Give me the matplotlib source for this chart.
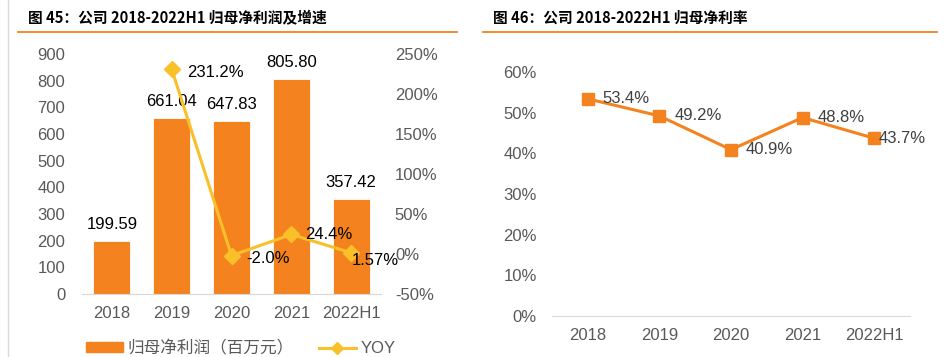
import matplotlib
matplotlib.use("Agg")
import matplotlib.pyplot as plt
from matplotlib.lines import Line2D
from matplotlib.patches import Patch
import numpy as np

plt.rcParams['font.family'] = ['Liberation Sans', 'Noto Sans CJK SC', 'DejaVu Sans']

# ---- data ----
categories = ["2018", "2019", "2020", "2021", "2022H1"]
net_profit = [199.59, 661.04, 647.83, 805.80, 357.42]
profit_labels = ["199.59", "661.04", "647.83", "805.80", "357.42"]
yoy = [np.nan, 231.2, -2.0, 24.4, 1.57]
yoy_labels = ["", "231.2%", "-2.0%", "24.4%", "1.57%"]
margin = [53.4, 49.2, 40.9, 48.8, 43.7]
margin_labels = ["53.4%", "49.2%", "40.9%", "48.8%", "43.7%"]

left_ticks = [0, 100, 200, 300, 400, 500, 600, 700, 800, 900]
right_ticks = [-50, 0, 50, 100, 150, 200, 250]
margin_ticks = [0, 10, 20, 30, 40, 50, 60]

title1 = "图 45：公司 2018-2022H1 归母净利润及增速"
title2 = "图 46：公司 2018-2022H1 归母净利率"
legend_bar = "归母净利润（百万元）"
legend_line = "YOY"

ORANGE = "#F4821F"
GOLD = "#FAC02A"
TICK = "#595959"
AXLINE = "#D9D9D9"
FS = 12

W, H = 947, 357
fig = plt.figure(figsize=(W / 100, H / 100), dpi=100)

def fx(px):
    return px / W

def fy(py):
    return 1 - py / H

# decorations
fig.add_artist(Line2D([fx(8), fx(8)], [0, 1], color=AXLINE, lw=1))
fig.add_artist(Line2D([fx(18), fx(457)], [fy(32), fy(32)], color=ORANGE, lw=1.3))
fig.add_artist(Line2D([fx(483), fx(937)], [fy(32), fy(32)], color=ORANGE, lw=1.3))
fig.text(fx(28), fy(18), title1, fontsize=10.6, fontweight='bold',
         family=['Noto Sans CJK SC'], va='center', ha='left', color='black')
fig.text(fx(493), fy(18), title2, fontsize=10.6, fontweight='bold',
         family=['Noto Sans CJK SC'], va='center', ha='left', color='black')

# ---- left chart ----
ax = fig.add_axes([fx(82), fy(294), fx(381 - 82), (294 - 54) / H])
x = np.arange(len(categories))
ax.bar(x, net_profit, width=0.62, color=ORANGE, edgecolor='white', linewidth=0.6, zorder=2)
ax.set_xlim(-0.5, 4.5)
ax.set_ylim(0, 900)
ax.set_yticks(left_ticks)
ax.set_xticks(x)
ax.set_xticklabels(categories)
for s in ['top', 'right', 'left']:
    ax.spines[s].set_visible(False)
ax.spines['bottom'].set_color(AXLINE)
ax.tick_params(axis='both', length=0, colors=TICK, labelsize=FS)
ax.tick_params(axis='y', pad=12)
ax.tick_params(axis='x', pad=9)
for xi, v, lab in zip(x, net_profit, profit_labels):
    ax.annotate(lab, (xi, v), xytext=(0, 9), textcoords='offset pixels',
                ha='center', va='bottom', fontsize=FS, color='black')

ax2 = ax.twinx()
ax2.plot(x, yoy, color=GOLD, lw=2.2, marker='D', markersize=8, zorder=3)
ax2.set_ylim(-50, 250)
ax2.set_yticks(right_ticks)
ax2.set_yticklabels([f"{t}%" for t in right_ticks])
for s in ['top', 'right', 'left', 'bottom']:
    ax2.spines[s].set_visible(False)
ax2.tick_params(axis='y', length=0, colors=TICK, labelsize=FS, pad=10)
yoy_offsets = [(0, 0), (15, -3), (15, -3), (14, 0), (1, -8)]
for xi, v, lab, off in zip(x, yoy, yoy_labels, yoy_offsets):
    if lab:
        ax2.annotate(lab, (xi, v), xytext=off, textcoords='offset pixels',
                     ha='left', va='center', fontsize=FS, color='black')

handles = [Patch(facecolor=ORANGE, edgecolor=ORANGE),
           Line2D([0], [0], color=GOLD, lw=2.2, marker='D', markersize=6)]
fig.legend(handles, [legend_bar, legend_line], loc='center',
           bbox_to_anchor=(fx(241), fy(348)), ncol=2, frameon=False,
           fontsize=FS, labelcolor=TICK, handlelength=2.2, handleheight=0.5,
           columnspacing=1.5, handletextpad=0.3)

# ---- right chart ----
bx = fig.add_axes([fx(552), fy(316), fx(910 - 552), (316 - 72) / H])
bx.plot(x, margin, color=ORANGE, lw=2.2, marker='s', markersize=8.5, zorder=3)
bx.set_xlim(-0.5, 4.5)
bx.set_ylim(0, 60)
bx.set_yticks(margin_ticks)
bx.set_yticklabels([f"{t}%" for t in margin_ticks])
bx.set_xticks(x)
bx.set_xticklabels(categories)
for s in ['top', 'right', 'left']:
    bx.spines[s].set_visible(False)
bx.spines['bottom'].set_color(AXLINE)
bx.tick_params(axis='both', length=0, colors=TICK, labelsize=FS)
bx.tick_params(axis='y', pad=11)
bx.tick_params(axis='x', pad=9)
m_offsets = [(15, 0), (15, 0), (15, 0), (15, 0), (4, 0)]
for xi, v, lab, off in zip(x, margin, margin_labels, m_offsets):
    bx.annotate(lab, (xi, v), xytext=off, textcoords='offset pixels',
                ha='left', va='center', fontsize=FS, color='#404040', zorder=4)
for a in (ax, ax2, bx):
    for ln in a.lines:
        ln.set_clip_on(False)

fig.savefig("out.png", dpi=100)
